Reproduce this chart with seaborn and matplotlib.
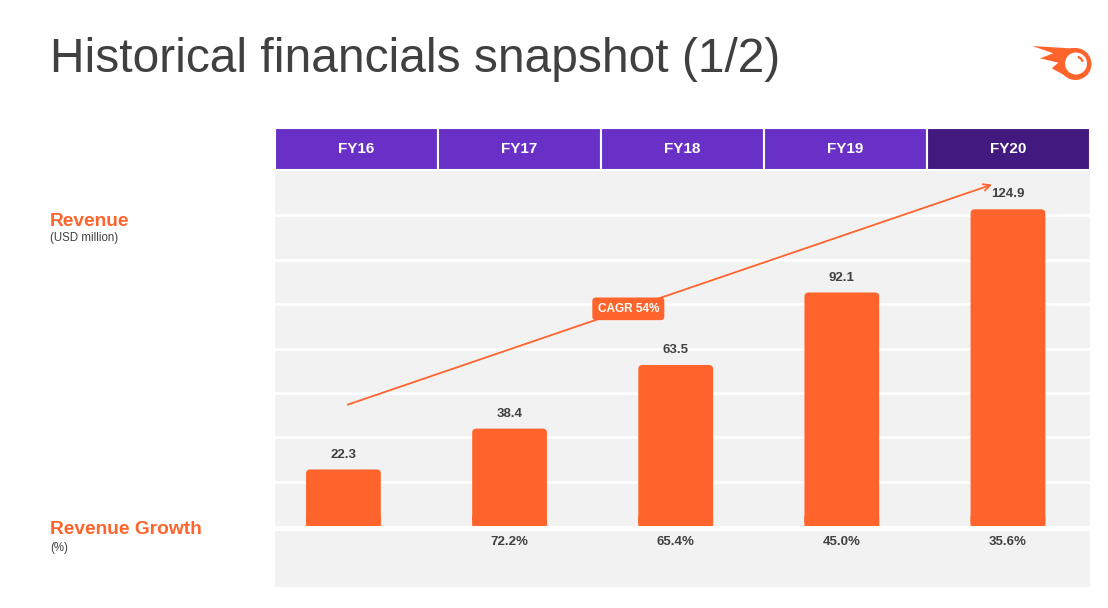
import numpy as np
import pandas as pd
import seaborn as sns
import matplotlib.pyplot as plt
from matplotlib.patches import Circle, Polygon, Wedge, FancyBboxPatch

# Data
years = ["FY16", "FY17", "FY18", "FY19", "FY20"]
revenue = [22.3, 38.4, 63.5, 92.1, 124.9]
growth = ["", "72.2%", "65.4%", "45.0%", "35.6%"]
cagr_label = "CAGR 54%"
cagr_start = [0.01, 47.5]   # (position, value) where the CAGR arrow starts
cagr_end = [3.92, 135.0]    # (position, value) where it ends

ORANGE = "#FF642D"
PURPLE = "#6930C8"
DARK_PURPLE = "#42197F"
PANEL = "#F2F2F2"
TEXT = "#404040"

sns.set_theme(style="darkgrid", rc={"axes.facecolor": PANEL, "grid.color": "white",
                                    "grid.linewidth": 2.0, "axes.edgecolor": PANEL})
plt.rcParams["font.family"] = ["Liberation Sans", "DejaVu Sans"]

df = pd.DataFrame({"Year": years, "Revenue": revenue, "Growth": growth})

fig = plt.figure(figsize=(11.08, 6.08), dpi=100)
W, H = 1108, 608

def px_axes(x0, y0, x1, y1):
    return fig.add_axes([x0 / W, 1 - y1 / H, (x1 - x0) / W, (y1 - y0) / H])

# Title and side labels
fig.text(50 / W, 1 - 60 / H, "Historical financials snapshot (1/2)", fontsize=34.5,
         color=TEXT, va="center", ha="left")
fig.text(50 / W, 1 - 221 / H, "Revenue", fontsize=13.8, fontweight="bold", color=ORANGE, va="center")
fig.text(50 / W, 1 - 238 / H, "(USD million)", fontsize=8.3, color=TEXT, va="center")
fig.text(50 / W, 1 - 530 / H, "Revenue Growth", fontsize=13.8, fontweight="bold", color=ORANGE, va="center")
fig.text(50 / W, 1 - 548 / H, "(%)", fontsize=8.3, color=TEXT, va="center")

# Header row with years
hax = px_axes(275, 128, 1090, 170)
sns.barplot(data=df, x="Year", y=[1] * len(years), hue="Year",
            palette=[PURPLE] * 4 + [DARK_PURPLE], width=1.0, dodge=False, saturation=1,
            edgecolor="white", linewidth=1.5, legend=False, ax=hax)
hax.set_xlim(-0.5, len(years) - 0.5)
hax.set_ylim(0, 1)
for i, y in enumerate(years):
    hax.text(i, 0.5, y, ha="center", va="center", color="white", fontsize=11, fontweight="bold")
hax.axis("off")

# Main revenue bars
ax = px_axes(275, 171, 1090, 526)
sns.barplot(data=df, x="Year", y="Revenue", color=ORANGE, width=0.45, saturation=1,
            linewidth=0, ax=ax)
ax.set_xlim(-0.412, 4.494)
ax.set_ylim(0, 140)
# round the top corners of the bars
aspect = (140 / 355) / (4.906 / 815)
for p in list(ax.patches):
    x, w, h = p.get_x(), p.get_width(), p.get_height()
    p.remove()
    ax.add_patch(FancyBboxPatch((x, 0), w, h, boxstyle="round,pad=0,rounding_size=0.025",
                                mutation_aspect=aspect, facecolor=ORANGE, edgecolor="none",
                                snap=False, zorder=3))
    ax.add_patch(plt.Rectangle((x, 0), w, 4, facecolor=ORANGE, edgecolor="none",
                               snap=False, zorder=3))
ax.set_yticks(np.arange(17.5, 140, 17.5))
ax.set_xticks([])
ax.tick_params(left=False, labelleft=False)
ax.grid(axis="x", visible=False)
ax.set_xlabel("")
ax.set_ylabel("")
for i, v in enumerate(revenue):
    ax.text(i, v + 3.5, f"{v:.1f}", ha="center", va="bottom", fontsize=9.5,
            fontweight="bold", color=TEXT, zorder=4)

# CAGR arrow
ax.annotate("", xy=cagr_end, xytext=cagr_start,
            arrowprops=dict(arrowstyle="->", color=ORANGE, lw=1.3, mutation_scale=12), zorder=4)
t = 0.436
ax.text(cagr_start[0] + t * (cagr_end[0] - cagr_start[0]),
        cagr_start[1] + t * (cagr_end[1] - cagr_start[1]), cagr_label,
        ha="center", va="center", color="white", fontsize=8.5, fontweight="bold", zorder=5,
        bbox=dict(boxstyle="round,pad=0.45,rounding_size=0.3", facecolor=ORANGE, edgecolor="none"))
for s in ax.spines.values():
    s.set_visible(False)

# Growth row
gax = px_axes(275, 531, 1090, 587)
gax.set_facecolor(PANEL)
gax.set_xlim(-0.412, 4.494)
gax.set_ylim(0, 1)
for i, g in enumerate(growth):
    gax.text(i, 0.8, g, ha="center", va="center", fontsize=9.5, fontweight="bold", color=TEXT)
gax.set_xticks([])
gax.set_yticks([])
gax.grid(False)
for s in gax.spines.values():
    s.set_visible(False)

# Logo (orange comet)
lax = px_axes(1030, 38, 1096, 82)
lax.set_xlim(0, 66)
lax.set_ylim(44, 0)
lax.set_aspect("equal")
lax.axis("off")
lax.add_patch(Polygon([[2.3, 8], [40, 10.3], [45.5, 10], [45.5, 42], [40, 40.3], [21.7, 30.3],
                       [28.3, 24.7], [10, 20.3], [23.3, 15.3]], closed=True,
                      facecolor=ORANGE, edgecolor="none"))
lax.add_patch(Circle((45.5, 26), 16, facecolor=ORANGE, edgecolor="none"))
lax.add_patch(Circle((46, 25.5), 11, facecolor="white", edgecolor="none"))
lax.add_patch(Wedge((46, 25.5), 8, 285, 345, width=2.3, facecolor=ORANGE, edgecolor="none"))

fig.savefig("out.png", dpi=100, facecolor="white")
